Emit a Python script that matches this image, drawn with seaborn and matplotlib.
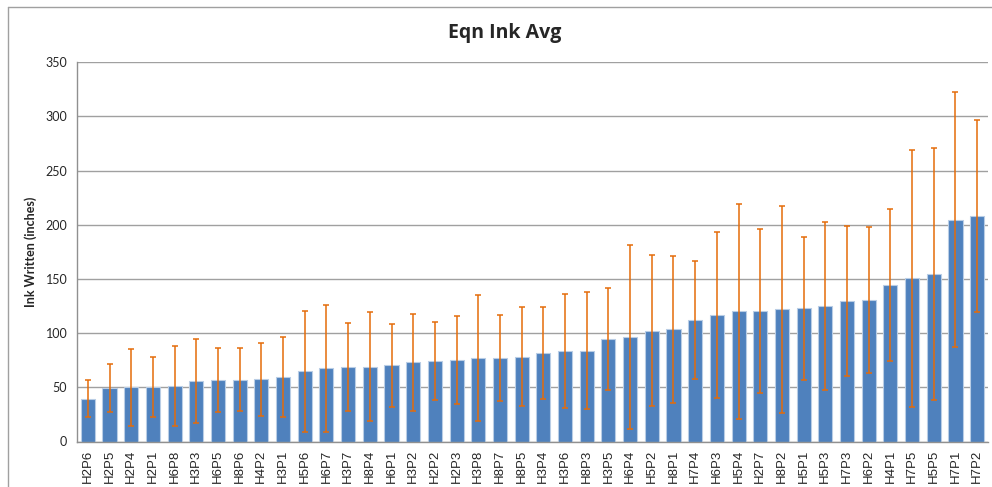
import numpy as np
import pandas as pd
import matplotlib
matplotlib.use("Agg")
import matplotlib.pyplot as plt
import seaborn as sns

# Category labels (sorted by mean, as in the sheet)
labels = ["H2P6", "H2P5", "H2P4", "H2P1", "H6P8", "H3P3", "H6P5", "H8P6", "H4P2", "H3P1",
          "H5P6", "H6P7", "H3P7", "H8P4", "H6P1", "H3P2", "H2P2", "H2P3", "H3P8", "H8P7",
          "H8P5", "H3P4", "H3P6", "H8P3", "H3P5", "H6P4", "H5P2", "H8P1", "H7P4", "H6P3",
          "H5P4", "H2P7", "H8P2", "H5P1", "H5P3", "H7P3", "H6P2", "H4P1", "H7P5", "H5P5",
          "H7P1", "H7P2"]

# Average ink written (inches)
ink_avg = [39.5, 49.4, 50.0, 50.2, 51.5, 55.8, 56.5, 57.1, 57.4, 59.2,
           64.8, 67.6, 68.5, 69.0, 70.3, 73.1, 74.6, 75.2, 76.8, 77.1,
           78.3, 81.4, 83.3, 83.8, 94.6, 96.7, 102.3, 103.6, 112.4, 116.8,
           120.2, 120.8, 122.0, 122.9, 125.1, 129.7, 130.3, 144.5, 150.6, 154.6,
           204.5, 208.1]

# Error bar size (+/-)
ink_err = [17, 22, 35.5, 28, 37, 39, 29.5, 29, 33.7, 37,
           56, 58.6, 40.6, 50.5, 38.5, 44.6, 36, 40.7, 58, 39.5,
           45.8, 42.5, 52.8, 53.8, 47.4, 85, 69.8, 67.8, 54.3, 76.8,
           99, 75.6, 95.5, 65.9, 77.6, 69.4, 67.4, 70.1, 118.8, 116.3,
           117.7, 89]

df = pd.DataFrame({"label": labels, "avg": ink_avg, "err": ink_err})

sns.set_style("white")
plt.rcParams["font.family"] = ["Lato", "DejaVu Sans"]

fig = plt.figure(figsize=(9.92, 4.87), dpi=100)
ax = fig.add_axes([77 / 992, 1 - 441.5 / 487, (988 - 77) / 992, (441.5 - 62.3) / 487])

sns.barplot(data=df, x="label", y="avg", color="#4F81BD", saturation=1,
            width=0.65, errorbar=None, edgecolor="#B9CDE5", linewidth=0.8, ax=ax, zorder=2)

x = np.arange(len(df))
ax.errorbar(x, df["avg"], yerr=df["err"], fmt="none", ecolor="#E46C0A",
            elinewidth=1.1, capsize=2.3, capthick=1.1, zorder=3)

ax.set_ylim(0, 350)
ax.set_yticks(np.arange(0, 351, 50))
ax.set_xlim(-0.5, len(df) - 0.5)
ax.grid(axis="y", color="#A0A0A0", linewidth=1.0, zorder=0)
ax.set_axisbelow(True)

for s in ["top", "right"]:
    ax.spines[s].set_visible(False)
for s in ["left", "bottom"]:
    ax.spines[s].set_color("#909090")
    ax.spines[s].set_linewidth(1.0)

# tick marks between categories, labels centred
ax.set_xticks(x)
ax.set_xticks(np.arange(-0.5, len(df), 1), minor=True)
ax.tick_params(axis="x", which="major", length=0, pad=6)
ax.tick_params(axis="x", which="minor", length=4, color="#909090", width=1)
ax.tick_params(axis="y", length=4, color="#909090", width=1, pad=3, labelsize=9)
ax.set_xticklabels(labels, rotation=90, fontsize=9.5, family=["Liberation Sans", "DejaVu Sans"])

ax.set_xlabel("")
ax.set_ylabel("Ink Written (inches)", fontsize=9, fontweight="bold", labelpad=6)

fig.text(0.509, 0.932, "Eqn Ink Avg", ha="center", va="center",
         fontsize=14, fontweight="bold", family=["Open Sans", "DejaVu Sans"])

# chart frame (Excel-style outer border)
fig.add_artist(plt.Line2D([8 / 992, 8 / 992], [0, 1 - 7 / 487], color="#A0A0A0", lw=1))
fig.add_artist(plt.Line2D([8 / 992, 1], [1 - 7 / 487, 1 - 7 / 487], color="#A0A0A0", lw=1))

fig.savefig("out.png", dpi=100)
